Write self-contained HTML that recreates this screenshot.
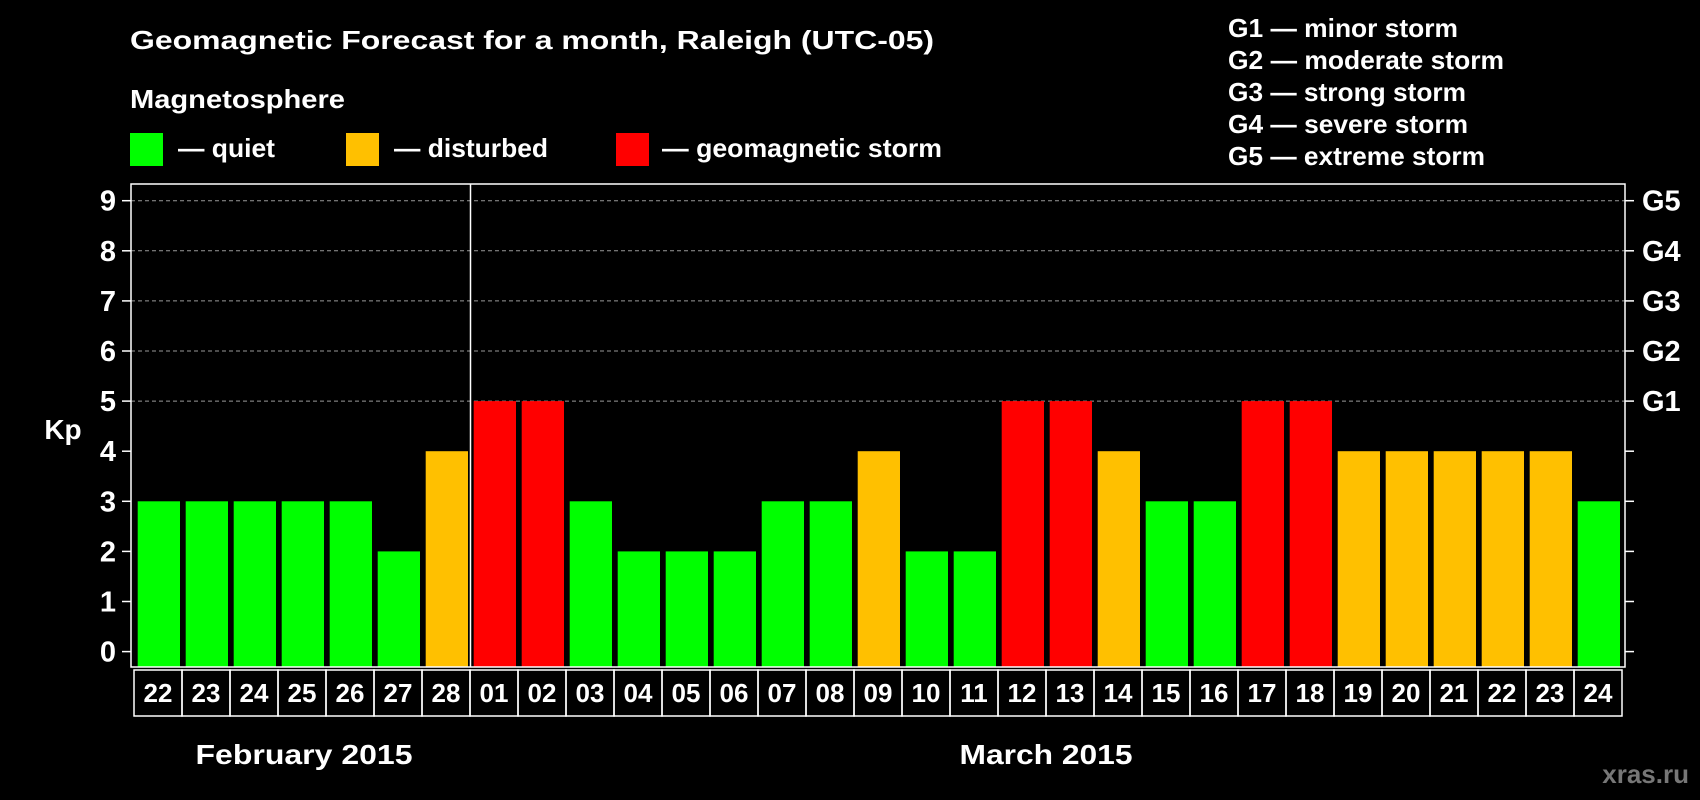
<!DOCTYPE html>
<html><head><meta charset="utf-8"><style>
html,body{margin:0;padding:0;background:#000;}
svg{display:block;font-family:"Liberation Sans",Arial,sans-serif;font-weight:bold;}
</style></head><body>
<svg id="chart" width="1700" height="800" viewBox="0 0 1700 800">
<rect width="1700" height="800" fill="#000"/>
<text x="130" y="49" fill="#fff" font-size="26" textLength="804" lengthAdjust="spacingAndGlyphs">Geomagnetic Forecast for a month, Raleigh (UTC-05)</text>
<text x="130" y="108" fill="#fff" font-size="26" textLength="215" lengthAdjust="spacingAndGlyphs">Magnetosphere</text>
<g><rect x="130" y="133" width="33" height="33" fill="#00ff00"/><text x="178" y="157" fill="#fff" font-size="26" textLength="97" lengthAdjust="spacingAndGlyphs">— quiet</text></g>
<g><rect x="346" y="133" width="33" height="33" fill="#ffc000"/><text x="394" y="157" fill="#fff" font-size="26" textLength="154" lengthAdjust="spacingAndGlyphs">— disturbed</text></g>
<g><rect x="616" y="133" width="33" height="33" fill="#ff0000"/><text x="662" y="157" fill="#fff" font-size="26" textLength="280" lengthAdjust="spacingAndGlyphs">— geomagnetic storm</text></g>
<g fill="#fff" font-size="26">
<text x="1228" y="37" textLength="230" lengthAdjust="spacingAndGlyphs">G1 — minor storm</text>
<text x="1228" y="69" textLength="276" lengthAdjust="spacingAndGlyphs">G2 — moderate storm</text>
<text x="1228" y="101" textLength="238" lengthAdjust="spacingAndGlyphs">G3 — strong storm</text>
<text x="1228" y="133" textLength="240" lengthAdjust="spacingAndGlyphs">G4 — severe storm</text>
<text x="1228" y="165" textLength="257" lengthAdjust="spacingAndGlyphs">G5 — extreme storm</text>
</g>
<text x="63" y="439" fill="#fff" font-size="28" text-anchor="middle">Kp</text>
<g id="grid"></g><g id="bars"></g><g id="axes"></g>
<text x="304" y="764" fill="#fff" font-size="28" text-anchor="middle" textLength="217" lengthAdjust="spacingAndGlyphs">February 2015</text>
<text x="1046" y="764" fill="#fff" font-size="28" text-anchor="middle" textLength="173" lengthAdjust="spacingAndGlyphs">March 2015</text>
<text x="1689" y="783" fill="#777" font-size="26" text-anchor="end">xras.ru</text>
</svg>
<script>
const dates=["22","23","24","25","26","27","28","01","02","03","04","05","06","07","08","09","10","11","12","13","14","15","16","17","18","19","20","21","22","23","24"];
const kp=[3,3,3,3,3,2,4,5,5,3,2,2,2,3,3,4,2,2,5,5,4,3,3,5,5,4,4,4,4,4,3];
const yTicks=[0,1,2,3,4,5,6,7,8,9];
const gLabels=["G1","G2","G3","G4","G5"];
const NS="http://www.w3.org/2000/svg";
const L=131,R=1625,T=184,B=667,slot0=134,slotW=48;
function y(v){return 651.6-v*50.1;}
function x(i){return slot0+i*slotW;}
function mk(tag,attrs,parent){const e=document.createElementNS(NS,tag);for(const k in attrs)e.setAttribute(k,attrs[k]);parent.appendChild(e);return e;}
const grid=document.getElementById('grid'),bars=document.getElementById('bars'),axes=document.getElementById('axes');
yTicks.forEach(v=>{
  if(v>=5){const g=mk('line',{x1:L,x2:R,y1:y(v),y2:y(v),stroke:'#999','stroke-dasharray':'4,3','stroke-width':1},grid);
  
  }
  const t=mk('line',{x1:L-9,x2:L,y1:y(v),y2:y(v),stroke:'#fff','stroke-width':1.5},axes);
  
  
  const t2=mk('line',{x1:R,x2:R+9,y1:y(v),y2:y(v),stroke:'#fff','stroke-width':1.5},axes);
  
  
  const lb=mk('text',{x:116,y:y(v)+10,fill:'#fff','font-size':29,'text-anchor':'end'},axes);
  lb.textContent=v;
  
  
});
gLabels.forEach((g,i)=>{
  const lb=mk('text',{x:1642,y:y(5+i)+10,fill:'#fff','font-size':29},axes);
  lb.textContent=g;
  
  
});
kp.forEach((v,i)=>{
  const c=v>=5?'#ff0000':(v==4?'#ffc000':'#00ff00');
  const b=mk('rect',{x:x(i)+3.7,y:y(v),width:42.3,height:B-y(v),fill:c},bars);
  
  
  const box=mk('rect',{x:x(i),y:670,width:slotW,height:46,fill:'none',stroke:'#fff','stroke-width':1.5},axes);
  
  
  const dl=mk('text',{x:x(i)+slotW/2,y:702,fill:'#fff','font-size':26,'text-anchor':'middle'},axes);
  dl.textContent=dates[i];
  
  
});
const frame=mk('rect',{x:L,y:T,width:R-L,height:B-T,fill:'none',stroke:'#fff','stroke-width':1.5},axes);


const div=mk('line',{x1:x(7)+0.5,x2:x(7)+0.5,y1:T,y2:B,stroke:'#fff','stroke-width':1.5},axes);


</script>
</body></html>
